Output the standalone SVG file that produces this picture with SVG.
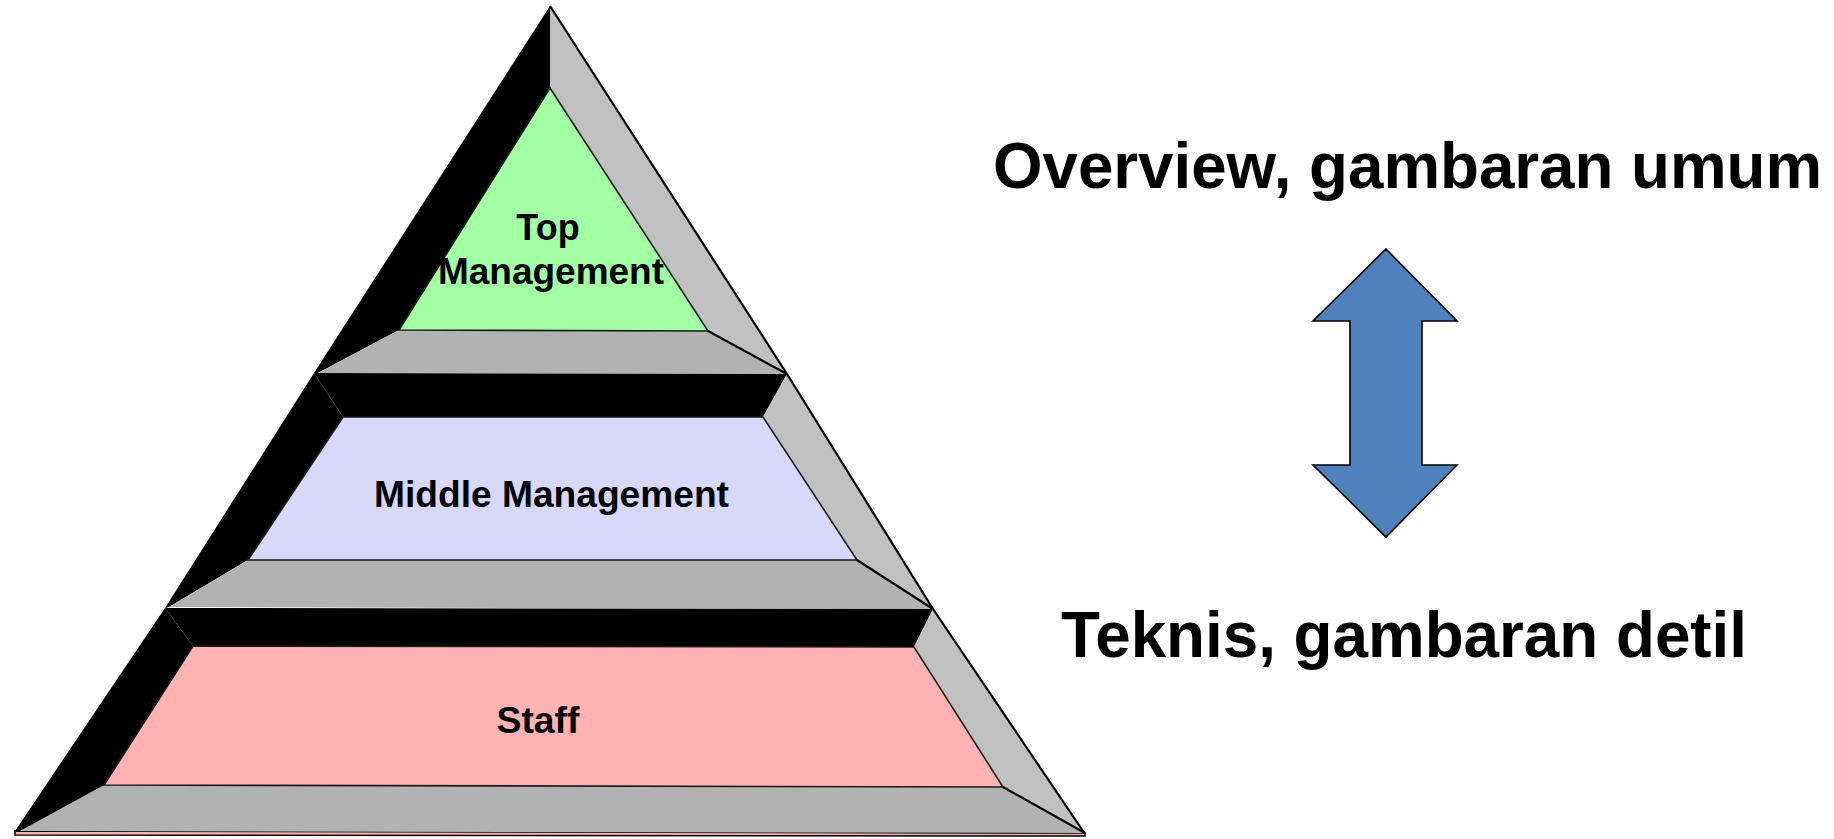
<svg xmlns="http://www.w3.org/2000/svg" width="1834" height="839" viewBox="0 0 1834 839">
  <style>
    .dark { fill: #000000; }
    .side { fill: #c0c0c0; }
    .floor { fill: #b2b2b2; }
    .edge { fill: none; stroke: #000000; stroke-width: 2.2; stroke-linejoin: round; }
    .face { stroke: #1a1a1a; stroke-width: 1.6; }
    .label { font-family: "Liberation Sans", Arial, sans-serif; font-weight: bold; fill: #000000; text-anchor: middle; }
    .caption { font-family: "Liberation Sans", Arial, sans-serif; font-weight: bold; fill: #000000; }
  </style>
  <rect width="1834" height="839" fill="#ffffff"/>

  <!-- Base strip under the pyramid -->
  <polygon points="15,831 1085,833 1085,836 15,835" fill="#ffb2b2" stroke="#000000" stroke-width="1.6"/>

  <!-- Tier 1: Top Management -->
  <g id="top-management">
    <polygon class="dark" points="550,6 550,88 399,330 318,373 314,373"/>
    <polygon class="side" points="550,6 787,374 708,331 550,88"/>
    <polygon class="floor" points="399,330 708,331 787,374 318,373"/>
    <polygon class="face" fill="#a3ffa3" points="550,88 708,331 399,330"/>
    <line class="edge" x1="708" y1="331" x2="787" y2="374"/>
    <line class="edge" x1="550" y1="6" x2="787" y2="374"/>
    <text class="label" font-size="36" x="548" y="240">Top</text>
    <text class="label" font-size="36" x="551" y="284" textLength="226" lengthAdjust="spacingAndGlyphs">Management</text>
  </g>

  <!-- Tier 2: Middle Management -->
  <g id="middle-management">
    <polygon class="dark" points="314,373 787,374 763,417 343,417"/>
    <polygon class="dark" points="314,373 343,417 248,560 169,607 165,608"/>
    <polygon class="side" points="787,374 933,609 857,560 763,417"/>
    <polygon class="floor" points="248,560 857,560 933,609 169,607"/>
    <polygon class="face" fill="#d8d8fc" points="343,417 763,417 857,560 248,560"/>
    <line class="edge" x1="857" y1="560" x2="933" y2="609"/>
    <line class="edge" x1="787" y1="374" x2="933" y2="609"/>
    <text class="label" font-size="36" x="551.5" y="507" textLength="355" lengthAdjust="spacingAndGlyphs">Middle Management</text>
  </g>

  <!-- Tier 3: Staff -->
  <g id="staff">
    <polygon class="dark" points="165,608 933,609 914,647 193,646"/>
    <polygon class="dark" points="165,608 193,646 104,785 100,793 20,831 15,831"/>
    <polygon class="side" points="933,609 1085,833 1003,787 914,647"/>
    <polygon class="floor" points="104,785 1003,787 1085,833 20,831"/>
    <polygon class="face" fill="#ffb2b2" points="193,646 914,647 1003,787 104,785"/>
    <line class="edge" x1="1003" y1="787" x2="1085" y2="833"/>
    <line class="edge" x1="933" y1="609" x2="1085" y2="834"/>
    <text class="label" font-size="36" x="538" y="733" textLength="83" lengthAdjust="spacingAndGlyphs">Staff</text>
  </g>

  <!-- Two-way arrow between the captions -->
  <g id="scale-arrow">
    <polygon points="1386,249 1457,321 1422,321 1422,465 1457,465 1386,537 1313,465 1350,465 1350,321 1313,321"
             fill="#4f81bd" stroke="#000000" stroke-width="1.6" stroke-linejoin="miter"/>
  </g>

  <g id="caption-overview">
    <text class="caption" font-size="64" x="993" y="188" textLength="829" lengthAdjust="spacingAndGlyphs">Overview, gambaran umum</text>
  </g>
  <g id="caption-technical">
    <text class="caption" font-size="64" x="1061" y="657" textLength="686" lengthAdjust="spacingAndGlyphs">Teknis, gambaran detil</text>
  </g>
</svg>
